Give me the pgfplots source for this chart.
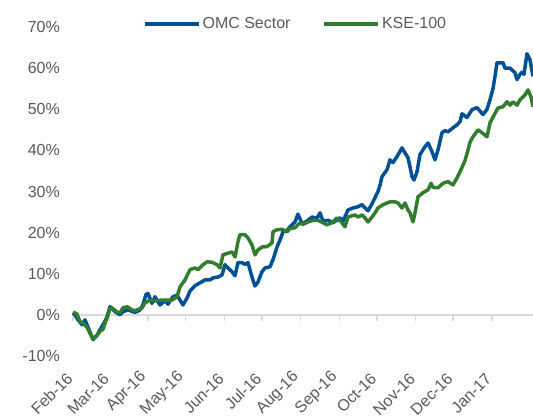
\documentclass[border=0pt]{standalone}
\usepackage{pgfplots}
\pgfplotsset{compat=1.18}
\usepackage{fontspec}
\setmainfont{Liberation Sans}
\definecolor{omc}{RGB}{0,80,150}
\definecolor{kse}{RGB}{50,125,45}
\definecolor{lbl}{RGB}{89,89,89}
\definecolor{zl}{RGB}{217,217,217}
\pgfplotstableread{
d v
0 0.5
1.6 0
4 -1.2
7.2 -2.4
9.6 -1.2
12 -3
16 -6
19.2 -5
21.6 -3.6
24.8 -2
27.2 -0.5
29.6 2
31.2 1.5
33.6 0.8
37.6 0
40 0.8
44 1.2
49.6 0.6
53.6 1.2
56 2.5
58.4 5
60 5.2
63.2 2.8
65.6 4.4
69.6 2.4
73.6 3.5
76 2.6
80 4.4
83.2 4.8
85.6 3.6
88 2.4
91.2 4.1
93.6 5.8
97.6 7.1
101.6 7.8
105.6 8.5
109.6 8.5
112 9
116 9.2
119.2 9.7
121.6 12.2
124 11.4
127.2 10.5
129.6 9.5
132 12.7
135.2 12.7
137.6 12.3
140 12.7
143.2 9.2
145.6 7.0
148 8
151.2 10.5
153.6 11.4
157.6 11.7
160 13.4
163.2 16.5
165.6 18.2
168 20.2
171.2 20.5
173.6 21.4
177.6 22.6
180 24.5
183.2 22.2
187.2 22.8
191.2 23.8
195.2 23.5
197.6 24.8
200 22.8
204 23
208 22.4
213.6 23.6
216 22.8
220 25.5
224 26
228 26.3
231.2 26.8
233.6 26
236 25.3
239.2 27
241.6 28.5
244 30
245.6 31.5
247.2 33.6
251.2 35.3
253.6 37.7
256 37
259.2 38.5
263.2 40.6
265.6 39.4
268 38.2
269.6 36
271.2 33.6
272.8 32.8
275.2 34.8
277.6 39
281.6 40.9
284 41.8
287.2 39.7
289.6 37.7
292 40.1
295.2 44.3
297.6 44.8
300 44.5
304 45.5
307.2 46.2
309.6 47
311.2 48.9
315.2 48
319.2 49.9
323.2 50.4
328 48.7
331.2 50
333.6 52.3
336 55
337.6 58
339.2 61.3
344 61.3
345.6 60
349.6 60
353.6 58.9
355.2 57.2
357.6 58.5
359.2 59
360.8 58.5
363.2 63.5
365.6 62
368 58
}\omc
\pgfplotstableread{
d v
0 0.7
3.2 0.2
5.6 -1.7
8 -2
11.2 -3
13.6 -4.5
16 -5.8
19.2 -5
21.6 -4
24 -3.5
27.2 -0.7
29.6 1.5
31.2 1.7
35.2 0.7
37.6 0.5
40 1.7
43.2 2
47.2 1.2
49.6 1
55.2 1.7
57.6 2.9
61.6 3.6
65.6 3.4
71.2 3.6
79.2 3.6
83.2 4.4
85.6 6.8
89.6 8.5
93.6 11
97.6 11.4
100 11
104 12.2
107.2 12.9
111.2 12.8
115.2 12.2
117.6 11.4
120 14.6
124 15
127.2 15.3
129.6 14.1
132 17.8
133.6 19.5
137.6 19.5
140 18.7
143.2 17
145.6 14.6
148 15.8
151.2 16.5
155.2 16.6
159.2 17.5
160 20.2
163.2 20.7
167.2 20.8
171.2 20.2
173.6 21
177.6 21.2
181.6 22.4
184 22
188 22.6
192 23
196 23
200 22.4
203.2 21.9
207.2 22.4
211.2 23.6
215.2 22.4
217.6 21.4
220 23.8
225.6 24.3
228 23.8
231.2 24.3
233.6 23.6
236 22.6
239.2 23.8
241.6 24.8
244 26
248 26.8
253.6 27.5
257.6 27.5
260 27.2
263.2 26
265.6 27.2
268 25.5
269.6 24.8
272 22.6
273.6 24.8
276 28.7
280 29.7
284 30.4
286.4 32
288 31
292 30.9
296 32
300 32.4
304 31.6
307.2 33.3
309.6 34.8
313.6 37.5
316 40.1
317.6 42
320 43.3
324 45
327.2 44.3
331.2 43.3
333.6 46.7
337.6 49
340 50.3
344 50.6
347.2 51.8
349.6 51
352 51.8
355.2 51
357.6 52.3
361.6 53.5
364 54.7
366.4 53
368 50.6
}\kse
\begin{document}
\begin{tikzpicture}
\useasboundingbox (-72pt,-63pt) rectangle (461pt,356pt);
\begin{axis}[
 at={(0,0)}, anchor=south west,
 scale only axis, width=461pt, height=329pt,
 xmin=-0.8, xmax=368, ymin=-10, ymax=70,
 axis x line*=middle, axis y line*=left,
 x axis line style={draw=zl, line width=1.5pt, -},
 y axis line style={draw=none},
 xtick={0,29,60,90,121,151,182,213,243,274,304,335},
 xticklabels={Feb-16,Mar-16,Apr-16,May-16,Jun-16,Jul-16,Aug-16,Sep-16,Oct-16,Nov-16,Dec-16,Jan-17},
 ytick={-10,0,10,20,30,40,50,60,70},
 yticklabels={-10\%,0\%,10\%,20\%,30\%,40\%,50\%,60\%,70\%},
 major tick length=0pt,
 xtick style={draw=none},
 ytick style={draw=none},
 tick label style={font=\fontsize{16}{19}\selectfont, text=lbl},
 xticklabel style={yshift=-65pt, xshift=1pt, rotate=45, anchor=south east, inner sep=0pt},
 yticklabel style={anchor=east, inner sep=0pt, xshift=-12pt},
 legend style={at={(0.485,1.009)}, anchor=center, draw=none, fill=none,
   legend columns=2, font=\fontsize{16}{19}\selectfont, text=lbl,
   /tikz/every even column/.append style={column sep=30pt}, inner sep=0pt,
   cells={anchor=west}},
 legend image code/.code={\draw[#1] (0pt,0pt) -- (54pt,0pt);},
 clip=true,
]
\addplot[zl, line width=1.5pt, ycomb, forget plot] coordinates {
(0,-1.5) (29,-1.5) (60,-1.5) (90,-1.5) (121,-1.5) (151,-1.5)
(182,-1.5) (213,-1.5) (243,-1.5) (274,-1.5) (304,-1.5) (335,-1.5)};
\addplot[omc, line width=3.5pt, line join=round] table[x=d,y=v] {\omc};
\addlegendentry{OMC Sector}
\addplot[kse, line width=3.5pt, line join=round] table[x=d,y=v] {\kse};
\addlegendentry{KSE-100}
\end{axis}
\end{tikzpicture}
\end{document}
